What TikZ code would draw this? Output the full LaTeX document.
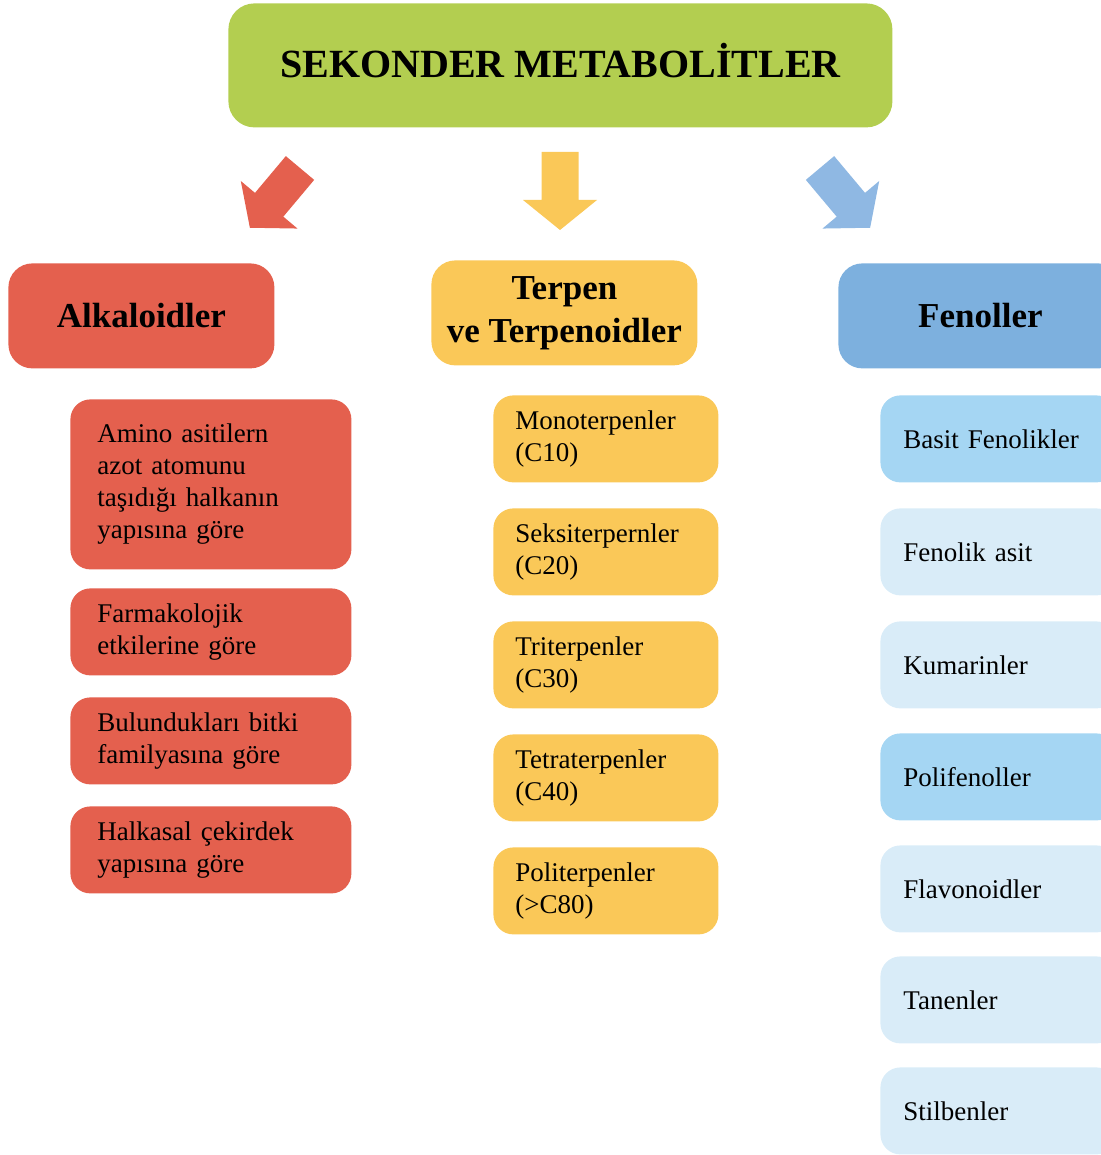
\documentclass[tikz,border=0pt]{standalone}
\usepackage{fontspec}
\setmainfont{Liberation Serif}
\definecolor{metagreen}{HTML}{B3CE50}
\definecolor{alkred}{HTML}{E4604E}
\definecolor{terpyellow}{HTML}{FAC858}
\definecolor{fenblue}{HTML}{7DB0DE}
\definecolor{arrowblue}{HTML}{8FB8E3}
\definecolor{lightblue}{HTML}{A5D6F3}
\definecolor{paleblue}{HTML}{D9ECF8}
\tikzset{
  head/.style={rounded corners=12pt, align=center, anchor=north west, inner sep=0pt,
    minimum height=52.5pt, font=\fontsize{17.5}{21.5}\selectfont\bfseries},
  sub/.style={rounded corners=10pt, align=left, anchor=north west, inner ysep=0pt,
    minimum height=43.5pt, font=\fontsize{13.5}{16}\selectfont},
  alksub/.style={sub, fill=alkred, inner xsep=13.5pt, text width=113.5pt},
  terpsub/.style={sub, fill=terpyellow, inner xsep=11pt, text width=90.5pt},
  fensub/.style={sub, inner xsep=11.5pt, text width=95pt},
  fatarrow/.style={draw=none}
}

\begin{document}
\begin{tikzpicture}[x=0.5pt, y=-0.5pt]
\useasboundingbox (0,0) rectangle (1100,1155);

\node[head, fill=metagreen, minimum width=332pt, minimum height=62pt,
  rounded corners=13pt, text height=12pt, text depth=0pt,
  font=\fontsize{20}{24}\selectfont\bfseries] (meta) at (228,3) {SEKONDER METABOLİTLER};

\fill[fatarrow, alkred, shift={(300,168)}, rotate=-130] (0,-18.5) -- (48,-18.5) -- (48,-37) -- (78,0) -- (48,37) -- (48,18.5) -- (0,18.5) -- cycle;
\fill[fatarrow, terpyellow, shift={(560,152)}, rotate=-90] (0,-18.5) -- (48,-18.5) -- (48,-37) -- (78,0) -- (48,37) -- (48,18.5) -- (0,18.5) -- cycle;
\fill[fatarrow, arrowblue, shift={(820,168)}, rotate=-50] (0,-18.5) -- (48,-18.5) -- (48,-37) -- (78,0) -- (48,37) -- (48,18.5) -- (0,18.5) -- cycle;

\node[head, fill=alkred, minimum width=133pt] (alk) at (8,263) {Alkaloidler};
\node[head, fill=terpyellow, minimum width=133pt] (terp) at (431,260) {Terpen\\ve Terpenoidler};
\node[head, fill=fenblue, minimum width=142pt] (fen) at (838,263) {Fenoller};

\node[alksub, minimum height=85pt] (alk1) at (70,399) {Amino asitilern\\azot atomunu\\taşıdığı halkanın\\yapısına göre};
\node[alksub] (alk2) at (70,588) {Farmakolojik\\etkilerine göre};
\node[alksub] (alk3) at (70,697) {Bulundukları bitki\\familyasına göre};
\node[alksub] (alk4) at (70,806) {Halkasal çekirdek\\yapısına göre};

\node[terpsub] (terp1) at (493,395) {Monoterpenler\\(C10)};
\node[terpsub] (terp2) at (493,508) {Seksiterpernler\\(C20)};
\node[terpsub] (terp3) at (493,621) {Triterpenler\\(C30)};
\node[terpsub] (terp4) at (493,734) {Tetraterpenler\\(C40)};
\node[terpsub] (terp5) at (493,847) {Politerpenler\\(>C80)};

\node[fensub, fill=lightblue] (fen1) at (880,395) {Basit Fenolikler};
\node[fensub, fill=paleblue] (fen2) at (880,508) {Fenolik asit};
\node[fensub, fill=paleblue] (fen3) at (880,621) {Kumarinler};
\node[fensub, fill=lightblue] (fen4) at (880,733) {Polifenoller};
\node[fensub, fill=paleblue] (fen5) at (880,845) {Flavonoidler};
\node[fensub, fill=paleblue] (fen6) at (880,956) {Tanenler};
\node[fensub, fill=paleblue] (fen7) at (880,1067) {Stilbenler};
\end{tikzpicture}
\end{document}
